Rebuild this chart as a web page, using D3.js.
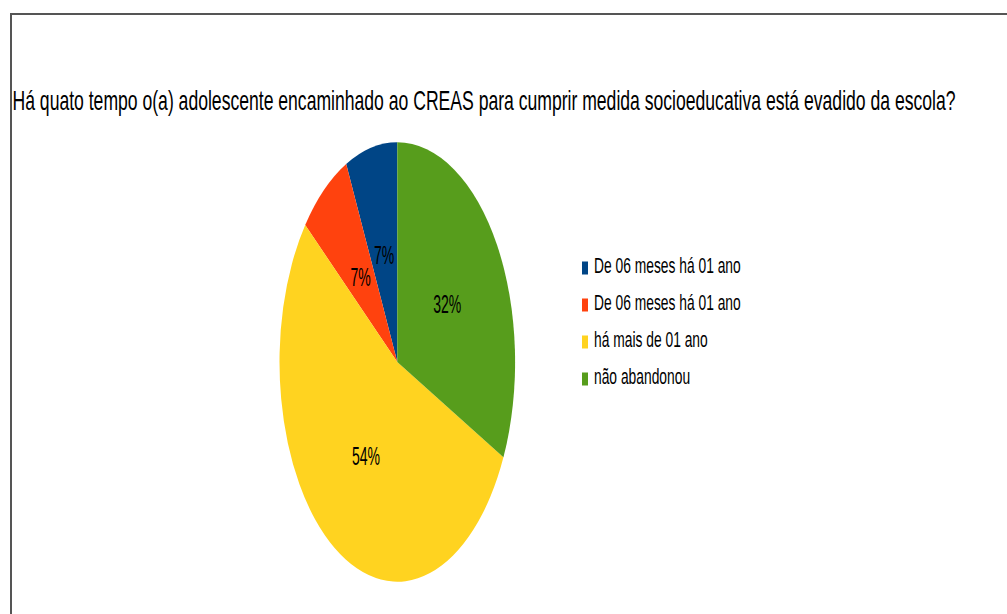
<!DOCTYPE html>
<html><head><meta charset="utf-8">
<script src="https://cdn.jsdelivr.net/npm/d3@7"></script>
<style>html,body{margin:0;padding:0;background:#fff;}svg{display:block;}</style>
</head><body>
<svg id="chart" width="1007" height="614"></svg>
<script>
const title = "Há quato tempo o(a) adolescente encaminhado ao CREAS para cumprir medida socioeducativa está evadido da escola?";
const categories = ["De 06 meses há 01 ano", "De 06 meses há 01 ano", "há mais de 01 ano", "não abandonou"];
const values = [2, 2, 15, 9];
const colors = ["#004586", "#ff420e", "#ffd320", "#579d1c"];

const svg = d3.select("#chart");
const FONT = "'Liberation Sans', Arial, sans-serif";

// frame
svg.append("rect").attr("x", 11).attr("y", 14).attr("width", 1100).attr("height", 700)
  .attr("fill", "none").attr("stroke", "#555").attr("stroke-width", 2);

// title (condensed horizontally)
const t = svg.append("text").attr("font-family", FONT).attr("font-size", 27).attr("fill", "#000")
  .text(title);
const natural = t.node().getComputedTextLength();
const targetW = 944;
t.attr("transform", `translate(12.5,110) scale(${targetW / natural},1)`);

// pie (ellipse)
const cx = 397.3, cy = 362, rx = 117.8, ry = 219.7;
const pie = d3.pie().sort(null).value(d => d).startAngle(0).endAngle(-2 * Math.PI);
const arcs = pie(values);
const arc = d3.arc().innerRadius(0).outerRadius(ry);
const g = svg.append("g").attr("transform", `translate(${cx},${cy}) scale(${rx / ry},1)`);
g.selectAll("path").data(arcs).join("path")
  .attr("d", arc).attr("fill", (d, i) => colors[i]);

const total = d3.sum(values);
const labelArc = d3.arc().innerRadius(ry * 0.5).outerRadius(ry * 0.5);
const labelSX = 0.54;
svg.selectAll("text.lbl").data(arcs).join("text").attr("class", "lbl")
  .attr("transform", d => {
    const c = labelArc.centroid(d);
    const x = cx + c[0] * rx / ry, y = cy + c[1];
    return `translate(${x},${y + 9.5}) scale(${labelSX},1)`;
  })
  .attr("text-anchor", "middle")
  .attr("font-family", FONT).attr("font-size", 26).attr("fill", "#000")
  .text(d => Math.round(d.value / total * 100) + "%");

// legend
const legX = 582, legY0 = 273, legStep = 37;
const leg = svg.selectAll("g.leg").data(categories).join("g").attr("class", "leg")
  .attr("transform", (d, i) => `translate(${legX},${legY0 + i * legStep})`);
leg.append("rect").attr("x", 0).attr("y", -11.5).attr("width", 6).attr("height", 13)
  .attr("fill", (d, i) => colors[i]);
leg.append("text").attr("transform", "translate(12,0) scale(0.634,1)")
  .attr("font-family", FONT).attr("font-size", 21.8).attr("fill", "#000")
  .text(d => d);
</script>
</body></html>
